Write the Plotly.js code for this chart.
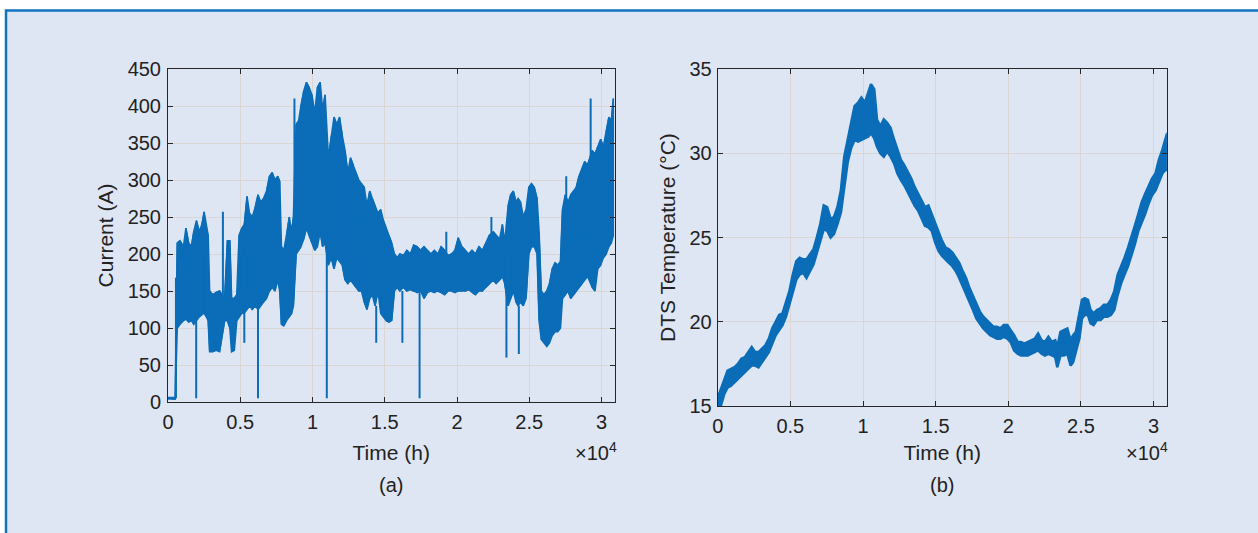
<!DOCTYPE html>
<html>
<head>
<meta charset="utf-8">
<script src="https://cdn.plot.ly/plotly-3.0.1.min.js"></script>
<style>html,body{margin:0;padding:0;background:#fff;}#chart{width:1258px;height:533px;}</style>
</head>
<body>
<div id="chart"></div>
<script>
// ---- (a) Current envelope (time in h, current in A) ----
const curT  = [0,300,500,640,830,1070,1240,1430,1620,1780,1970,2160,2350,2500,2660,2780,2880,3090,3330,3570,3920,4110,4280,4400,4590,4760,4920,5110,5280,5470,5640,5830,6020,6230,6420,6610,6820,7020,7210,7400,7590,7730,7850,8010,8200,8390,8560,8680,8870,9040,9200,9390,9580,9770,9960,10150,10340,10530,10700,10870,11100,11300,11490,11680,11870,12060,12250,12440,12630,12820,13010,13200,13390,13580,13770,13960,14140,14330,14530,14720,14910,15100,15290,15480,15670,15860,16050,16290,16530,16770,17000,17240,17480,17720,17950,18190,18430,18670,18900,19140,19380,19620,19860,20090,20330,20570,20810,21040,21280,21520,21760,22000,22230,22520,22710,22950,23140,23300,23540,23710,23900,24090,24230,24400,24590,24780,24970,25160,25350,25540,25680,25830,26020,26210,26400,26590,26780,26970,27160,27300,27490,27680,27870,28060,28250,28440,28650,28840,29030,29360,29550,29740,29940,30130,30320,30510,30680,30820];
const curLo = [4,4,4,100,105,110,112,108,110,105,110,115,118,120,115,110,68,68,70,68,110,110,100,68,70,110,115,120,120,125,130,125,130,125,130,135,140,150,155,150,165,150,105,103,110,115,120,130,200,205,210,220,235,225,215,205,210,230,210,215,185,195,180,195,190,185,165,160,165,160,155,150,150,135,125,140,145,130,150,120,115,110,108,110,150,155,150,155,150,152,150,148,150,140,148,150,148,150,148,145,150,150,148,150,150,150,152,148,145,150,150,155,160,165,160,165,170,160,130,140,150,135,130,135,130,140,200,210,210,200,110,85,80,75,80,90,95,95,100,140,145,150,140,145,150,155,160,165,170,155,150,180,185,195,200,210,215,225];
const curHi = [6,6,6,215,218,210,235,215,210,230,245,230,240,257,235,225,150,145,148,150,140,218,218,140,140,145,225,235,240,278,255,250,262,280,270,275,285,305,310,300,305,298,210,205,225,250,230,250,375,380,400,420,432,425,415,390,425,432,395,415,330,360,385,375,385,360,340,310,330,320,310,300,295,290,265,285,275,265,255,260,245,235,225,215,200,195,200,198,205,200,212,210,205,210,205,200,205,200,210,205,198,200,205,222,210,205,200,205,200,210,205,215,225,230,225,220,240,215,265,280,285,270,275,270,250,260,290,295,290,275,230,150,145,150,160,180,188,185,190,260,280,270,280,285,290,305,315,325,320,340,335,345,355,345,365,385,380,410];
// isolated spikes (time, band edge, tip)
const spikeT    = [550,1950,3800,5280,6230,8750,10990,14410,16220,17410,19260,22380,23420,24280,27560,29250];
const spikeFrom = [5,110,140,120,125,250,210,130,150,150,200,225,150,130,270,330];
const spikeTo   = [168,5,257,80,5,410,5,80,80,5,230,250,60,65,305,410];

// ---- (b) DTS temperature envelope (time in h, temperature in degC) ----
const tempT  = [50,210,450,680,920,1160,1390,1630,1870,2100,2340,2570,2810,3050,3280,3520,3750,3990,4230,4460,4700,4930,5170,5410,5640,5880,6110,6350,6590,6820,7060,7300,7530,7770,8000,8240,8480,8710,8950,9180,9420,9660,9890,10130,10370,10550,10770,10960,11190,11430,11660,11900,12140,12370,12610,12840,13080,13320,13550,13790,14020,14260,14500,14730,14970,15200,15440,15680,15910,16150,16390,16620,16860,17090,17330,17570,17800,18040,18280,18510,18750,18980,19220,19450,19690,19930,20160,20400,20640,20870,21110,21340,21580,21820,22050,22290,22520,22760,23000,23230,23370,23590,23820,24060,24290,24460,24650,24890,25070,25260,25480,25660,25870,26100,26350,26580,26820,27060,27290,27530,27770,28000,28240,28470,28710,28950,29180,29420,29650,29890,30130,30360,30600,30790,30930];
const tempLo = [14.9,15.0,15.7,16.1,16.2,16.4,16.6,16.8,17.0,17.2,17.4,17.4,17.3,17.6,17.9,18.2,18.7,19.2,19.5,19.8,20.3,21.0,21.8,22.5,22.8,22.9,22.6,23.0,23.4,24.0,24.8,25.5,25.4,25.0,25.2,25.8,26.5,28.0,29.5,30.3,30.8,30.7,30.8,30.9,31.0,31.2,30.9,30.4,30.0,29.8,30.1,29.8,29.4,28.8,28.4,28.1,27.7,27.3,26.9,26.6,26.2,25.7,25.6,25.4,24.7,24.2,23.9,23.7,23.5,23.3,23.0,22.6,22.2,21.7,21.2,20.7,20.2,19.9,19.6,19.4,19.2,19.1,19.0,19.0,19.1,19.0,18.8,18.3,18.1,18.0,18.0,18.0,18.1,18.2,18.3,18.1,18.0,18.1,18.0,17.9,17.3,18.0,18.0,18.1,17.4,17.6,18.3,19.0,20.2,20.4,20.4,19.9,19.8,20.1,20.1,20.3,20.3,20.4,20.7,21.6,22.3,22.8,23.3,23.9,24.6,25.4,25.9,26.4,27.0,27.5,27.8,28.3,28.8,29.0,29.0];
const tempHi = [15.6,16.0,16.5,17.1,17.2,17.3,17.5,17.8,17.9,18.2,18.5,18.2,18.2,18.4,18.6,19.0,19.6,20.0,20.4,20.5,21.2,21.8,22.8,23.6,23.8,23.7,23.7,24.0,24.3,25.0,25.8,26.9,26.8,26.1,26.2,26.8,27.8,29.8,30.8,31.8,32.8,33.0,33.3,33.0,33.6,34.1,33.8,32.0,31.6,32.0,31.8,31.5,30.8,30.2,29.6,29.3,28.9,28.5,28.0,27.6,27.2,26.8,26.9,26.4,25.8,25.3,24.8,24.4,24.3,24.1,23.8,23.5,23.0,22.6,22.0,21.5,21.0,20.6,20.3,20.1,19.9,19.7,19.7,19.6,19.8,19.8,19.5,19.2,18.8,18.8,18.7,18.8,18.9,19.0,19.3,18.9,18.8,19.1,18.8,18.9,18.5,19.4,19.5,19.6,18.9,19.2,19.4,20.6,21.3,21.4,21.3,20.7,20.5,20.7,20.8,21.0,21.0,21.3,21.8,22.8,23.3,23.8,24.4,25.0,25.7,26.4,27.1,27.6,28.0,28.5,28.8,29.6,30.2,30.8,31.2];

// ---- axis tick labels ----
const xTickVals = [0,5000,10000,15000,20000,25000,30000];
const xTickText = ['0','0.5','1','1.5','2','2.5','3'];

const LINE = '#0b6db8';
const FONT = 'Liberation Sans, Arial, Helvetica, sans-serif';
const INK = '#222222';

function bandTraces(t, lo, hi, xa, ya, w) {
  const fx = t.concat(t.slice().reverse());
  const fy = hi.concat(lo.slice().reverse());
  const fill = {x: fx, y: fy, xaxis: xa, yaxis: ya, type: 'scatter', mode: 'lines',
    fill: 'toself', fillcolor: LINE, line: {color: LINE, width: w}, hoverinfo: 'skip', showlegend: false};
  const zx = [], zy = [];
  for (let i = 0; i < t.length; i++) {
    zx.push(t[i], t[i]);
    if (i % 2 === 0) zy.push(lo[i], hi[i]); else zy.push(hi[i], lo[i]);
  }
  const zig = {x: zx, y: zy, xaxis: xa, yaxis: ya, type: 'scatter', mode: 'lines',
    line: {color: LINE, width: 1.2}, hoverinfo: 'skip', showlegend: false};
  return [fill, zig];
}

const sx = [], sy = [];
for (let i = 0; i < spikeT.length; i++) { sx.push(spikeT[i], spikeT[i], null); sy.push(spikeFrom[i], spikeTo[i], null); }
const spikes = {x: sx, y: sy, xaxis: 'x', yaxis: 'y', type: 'scatter', mode: 'lines',
  line: {color: LINE, width: 2}, hoverinfo: 'skip', showlegend: false};

const data = [].concat(bandTraces(curT, curLo, curHi, 'x', 'y', 1.6), [spikes], bandTraces(tempT, tempLo, tempHi, 'x2', 'y2', 2.6));

const W = 1258, H = 533;
function axisBase() {
  return {
    showline: true, linecolor: '#262626', linewidth: 1, mirror: 'allticks',
    ticks: 'inside', ticklen: 5, tickwidth: 1, tickcolor: '#262626',
    showgrid: true, gridcolor: '#d9d6d3', gridwidth: 1, zeroline: false,
    tickfont: {family: FONT, size: 20, color: INK}, automargin: false, fixedrange: true
  };
}
const xa = Object.assign(axisBase(), {domain: [168/W, 614.5/W], range: [0, 30900], tickmode: 'array', tickvals: xTickVals, ticktext: xTickText,
  ticklabelstandoff: 2,
  title: {text: 'Time (h)', font: {family: FONT, size: 21, color: INK}, standoff: 13}, anchor: 'y'});
const ya = Object.assign(axisBase(), {domain: [1-402/H, 1-69/H], range: [0, 450], dtick: 50, tick0: 0,
  ticklabelstandoff: 2,
  title: {text: 'Current (A)', font: {family: FONT, size: 21, color: INK}, standoff: 8}, anchor: 'x'});
const xa2 = Object.assign(axisBase(), {domain: [717.7/W, 1166.7/W], range: [0, 30900], tickmode: 'array', tickvals: xTickVals, ticktext: xTickText,
  ticklabelstandoff: 2,
  title: {text: 'Time (h)', font: {family: FONT, size: 21, color: INK}, standoff: 9}, anchor: 'y2'});
const ya2 = Object.assign(axisBase(), {domain: [1-406/H, 1-69/H], range: [15, 35], dtick: 5, tick0: 15,
  ticklabelstandoff: 1,
  title: {text: 'DTS Temperature (°C)', font: {family: FONT, size: 21, color: INK}, standoff: 8}, anchor: 'x2'});

const layout = {
  width: W, height: H, margin: {l: 0, r: 0, t: 0, b: 0, pad: 0},
  paper_bgcolor: '#ffffff', plot_bgcolor: '#ffffff', showlegend: false,
  font: {family: FONT, color: INK},
  xaxis: xa, yaxis: ya, xaxis2: xa2, yaxis2: ya2,
  shapes: [
    {type: 'rect', xref: 'paper', yref: 'paper', x0: 6/W, x1: 1.02, y0: -0.02, y1: 1-10.5/H,
     fillcolor: '#dee6f3', line: {color: '#1272c0', width: 2.5}, layer: 'below'}
  ],
  annotations: [
    {xref: 'paper', yref: 'paper', x: 596/W, y: 1-451/H, text: '×10<sup>4</sup>', showarrow: false,
     font: {family: FONT, size: 20, color: INK}, xanchor: 'center', yanchor: 'middle'},
    {xref: 'paper', yref: 'paper', x: 1147/W, y: 1-451/H, text: '×10<sup>4</sup>', showarrow: false,
     font: {family: FONT, size: 20, color: INK}, xanchor: 'center', yanchor: 'middle'},
    {xref: 'paper', yref: 'paper', x: 391/W, y: 1-485/H, text: '(a)', showarrow: false,
     font: {family: FONT, size: 20, color: INK}, xanchor: 'center', yanchor: 'middle'},
    {xref: 'paper', yref: 'paper', x: 942/W, y: 1-485/H, text: '(b)', showarrow: false,
     font: {family: FONT, size: 20, color: INK}, xanchor: 'center', yanchor: 'middle'}
  ]
};

Plotly.newPlot('chart', data, layout, {displayModeBar: false, staticPlot: true});
</script>
</body>
</html>
